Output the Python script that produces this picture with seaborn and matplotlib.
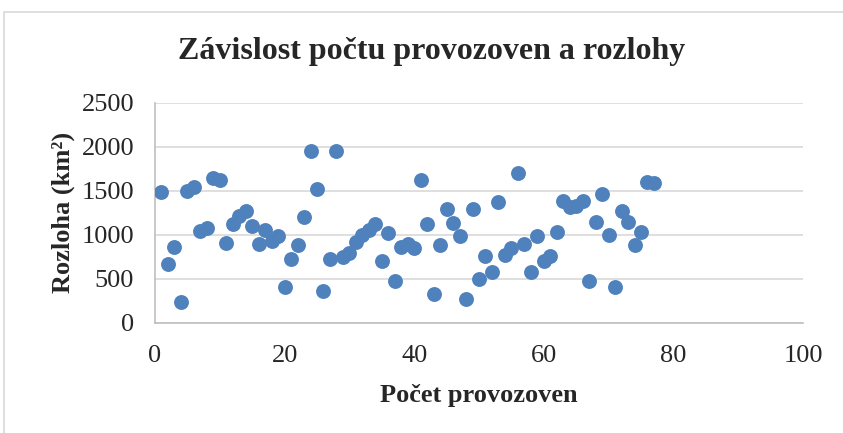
import pandas as pd
import matplotlib.pyplot as plt
import seaborn as sns
from matplotlib.patches import Rectangle

# pocet provozoven (x) a rozloha v km2 (y)
pocet = list(range(1, 78))
rozloha = [1480, 663, 863, 232, 1500, 1541, 1038, 1079, 1640, 1617,
           909, 1121, 1212, 1272, 1102, 894, 1053, 932, 988, 402,
           720, 886, 1201, 1947, 1515, 360, 720, 1950, 750, 795,
           920, 996, 1053, 1121, 700, 1022, 470, 863, 890, 849,
           1621, 1118, 330, 879, 1292, 1129, 988, 266, 1288, 493,
           758, 579, 1375, 769, 845, 1697, 897, 576, 981, 704,
           758, 1034, 1383, 1318, 1326, 1383, 470, 1147, 1465, 996,
           402, 1272, 1140, 879, 1034, 1595, 1584]

data = pd.DataFrame({'pocet': pocet, 'rozloha': rozloha})

sns.set_style('white')
plt.rcParams['font.family'] = ['Liberation Serif', 'DejaVu Serif']

fig = plt.figure(figsize=(8.43, 4.33), dpi=100)
ax = fig.add_axes([155/843, 1 - 322.7/433, 648/843, 220/433])

sns.scatterplot(data=data, x='pocet', y='rozloha', color='#4F81BD', s=115,
                linewidth=0, ax=ax, zorder=3)

ax.set_xlim(0, 100)
ax.set_ylim(0, 2500)
ax.set_xticks(range(0, 101, 20))
ax.set_yticks(range(0, 2501, 500))
ax.grid(axis='y', color='#d9d9d9', linewidth=1.2, zorder=0)
ax.tick_params(labelsize=19, length=0)
ax.tick_params(axis='x', pad=16)
ax.tick_params(axis='y', pad=15)
for side in ['top', 'right']:
    ax.spines[side].set_visible(False)
for side in ['left', 'bottom']:
    ax.spines[side].set_color('#bfbfbf')
    ax.spines[side].set_linewidth(1.2)

ax.set_xlabel('Počet provozoven', fontsize=19, fontweight='bold', labelpad=12)
ax.set_ylabel('Rozloha (km²)', fontsize=19, fontweight='bold', labelpad=5)
fig.text(432/843, 1 - 52/433, 'Závislost počtu provozoven a rozlohy',
         fontsize=23, fontweight='bold', ha='center', va='center')

# ramecek grafu
fig.patches.append(Rectangle((4/843, -0.1), 1.2, 1 - 12/433 + 0.1,
                             transform=fig.transFigure, fill=False,
                             edgecolor='#d9d9d9', linewidth=1.2))

fig.savefig('out.png', dpi=100)
